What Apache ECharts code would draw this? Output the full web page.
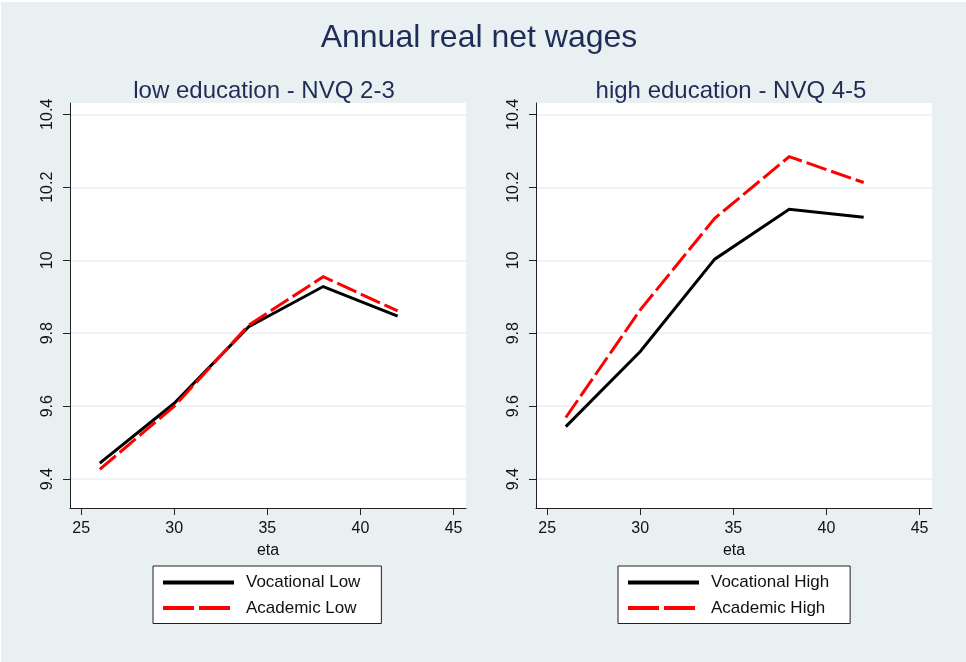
<!DOCTYPE html>
<html>
<head>
<meta charset="utf-8">
<script src="https://cdn.jsdelivr.net/npm/echarts@6/dist/echarts.min.js"></script>
<style>
html,body{margin:0;padding:0;background:#ffffff;}
#chart{position:absolute;left:1px;top:2px;width:965px;height:660px;}
</style>
</head>
<body>
<div id="chart"></div>
<script>
// ---- data ----
var chartTitle = 'Annual real net wages';
var panelTitles = ['low education - NVQ 2-3', 'high education - NVQ 4-5'];
var xAxisName = 'eta';
var ages = [26, 30, 34, 38, 42];
var vocationalLow = [9.444, 9.608, 9.818, 9.928, 9.847];
var academicLow   = [9.427, 9.600, 9.822, 9.955, 9.861];
var vocationalHigh = [9.544, 9.750, 10.003, 10.140, 10.118];
var academicHigh   = [9.569, 9.864, 10.115, 10.284, 10.213];
var seriesNames = ['Vocational Low', 'Academic Low', 'Vocational High', 'Academic High'];
var xTicks = [25, 30, 35, 40, 45];
var yTicks = [9.4, 9.6, 9.8, 10, 10.2, 10.4];

function pairs(xs, ys) { return xs.map(function (x, i) { return [x, ys[i]]; }); }

var BG = '#e8f0f2';
var NAVY = '#1f2d56';
var GRID = '#e8f0f2';
var FONT = 'Liberation Sans, Arial, sans-serif';

function xAxisCfg(idx) {
  return {
    type: 'value', gridIndex: idx, min: 24.4, max: 45.67,
    name: xAxisName, nameLocation: 'middle', nameGap: 35,
    nameTextStyle: { color: '#111', fontSize: 16, fontFamily: FONT },
    axisLine: { show: true, onZero: false, lineStyle: { color: '#222', width: 1 } },
    axisTick: { show: true, length: 7, lineStyle: { color: '#222' }, customValues: xTicks },
    axisLabel: { color: '#111', fontSize: 16, fontFamily: FONT, margin: 13, customValues: xTicks,
                 formatter: function (v) { return String(v); } },
    splitLine: { show: false }
  };
}
function yAxisCfg(idx) {
  return {
    type: 'value', gridIndex: idx, min: 9.321, max: 10.431,
    axisLine: { show: true, onZero: false, lineStyle: { color: '#222', width: 1 } },
    axisTick: { show: true, length: 7, lineStyle: { color: '#222' }, customValues: yTicks },
    axisLabel: { color: '#111', fontSize: 16, fontFamily: FONT, margin: 14, rotate: 90,
                 customValues: yTicks, formatter: function (v) { return String(+v.toFixed(1)); } },
    splitLine: { show: true, lineStyle: { color: GRID, width: 1.5 } }
  };
}
function lineSeries(name, idx, data, color, dashed) {
  return {
    type: 'line', name: name, xAxisIndex: idx, yAxisIndex: idx,
    data: data, symbol: 'none', showSymbol: false, silent: true, animation: false,
    lineStyle: { color: color, width: 3, type: dashed ? [21, 5] : 'solid', cap: 'butt', join: 'miter' },
    itemStyle: { color: color }
  };
}
var HIDDEN_SYMBOL = { color: 'rgba(0,0,0,0)', borderColor: 'rgba(0,0,0,0)', borderWidth: 0, opacity: 0 };
function legendCfg(left, names) {
  return {
    orient: 'vertical', left: left, top: 564,
    backgroundColor: '#ffffff', borderColor: '#222', borderWidth: 1, borderRadius: 0,
    padding: [8, 21, 7, 8], itemGap: 8.5, itemWidth: 71, itemHeight: 14,
    selectedMode: false,
    textStyle: { color: '#111', fontSize: 17, fontFamily: FONT, padding: [0, 0, 0, 7] },
    data: [
      { name: names[0], itemStyle: HIDDEN_SYMBOL, lineStyle: { color: '#000', width: 4, type: 'solid' } },
      { name: names[1], itemStyle: HIDDEN_SYMBOL, lineStyle: { color: '#ff0000', width: 4, type: [31, 5] } }
    ]
  };
}

var chart = echarts.init(document.getElementById('chart'), null, { renderer: 'canvas' });
chart.setOption({
  backgroundColor: BG,
  animation: false,
  title: [
    { text: chartTitle, left: 473, top: 15, textAlign: 'center',
      textStyle: { color: NAVY, fontSize: 32, fontWeight: 'normal', fontFamily: FONT } },
    { text: panelTitles[0], left: 258, top: 72, textAlign: 'center',
      textStyle: { color: NAVY, fontSize: 24, fontWeight: 'normal', fontFamily: FONT } },
    { text: panelTitles[1], left: 725, top: 72, textAlign: 'center',
      textStyle: { color: NAVY, fontSize: 24, fontWeight: 'normal', fontFamily: FONT } }
  ],
  legend: [ legendCfg(152, [seriesNames[0], seriesNames[1]]), legendCfg(617, [seriesNames[2], seriesNames[3]]) ],
  grid: [
    { left: 69, top: 101, width: 396, height: 405, show: true, backgroundColor: '#ffffff', borderWidth: 0 },
    { left: 535, top: 101, width: 396, height: 405, show: true, backgroundColor: '#ffffff', borderWidth: 0 }
  ],
  xAxis: [ xAxisCfg(0), xAxisCfg(1) ],
  yAxis: [ yAxisCfg(0), yAxisCfg(1) ],
  series: [
    lineSeries(seriesNames[0], 0, pairs(ages, vocationalLow), '#000000', false),
    lineSeries(seriesNames[1], 0, pairs(ages, academicLow), '#ff0000', true),
    lineSeries(seriesNames[2], 1, pairs(ages, vocationalHigh), '#000000', false),
    lineSeries(seriesNames[3], 1, pairs(ages, academicHigh), '#ff0000', true)
  ]
});
</script>
</body>
</html>
